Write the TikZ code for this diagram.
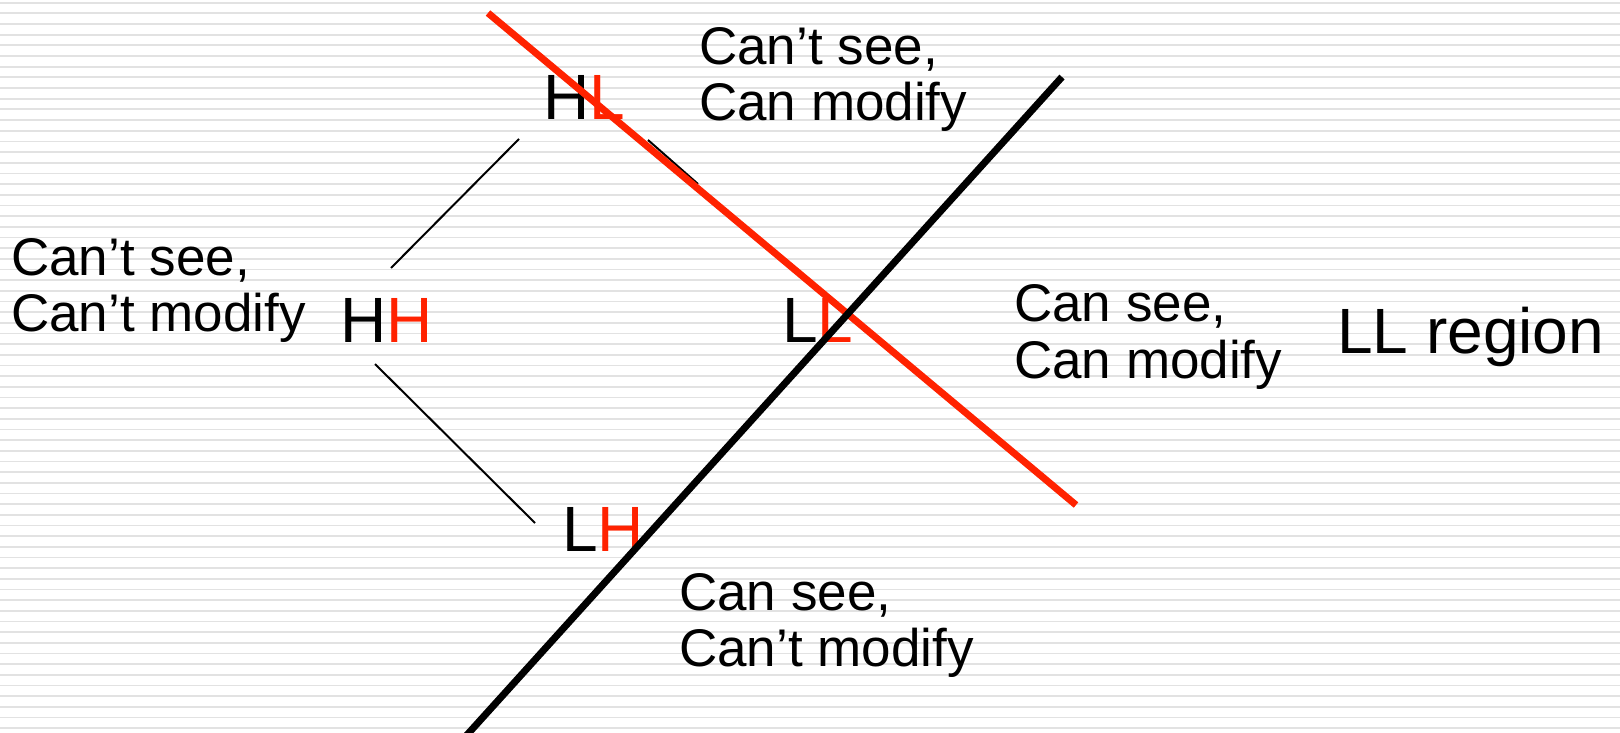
\documentclass[tikz,border=0pt]{standalone}
\usepackage{fontspec}
\setmainfont{Liberation Sans}
\definecolor{redline}{HTML}{FF2200}
\definecolor{stripe}{HTML}{E2E2E2}
\begin{document}
\begin{tikzpicture}[x=1pt,y=-1pt,
  big/.style={anchor=base west,inner sep=0pt,font=\fontsize{64}{64}\selectfont},
  note/.style={anchor=base west,inner sep=0pt,font=\fontsize{53}{56.7}\selectfont},
  thin/.style={line width=2pt,black},
  thick/.style={line width=7pt}]
\useasboundingbox[fill=white] (0,0) rectangle (1620,733);
\foreach \k in {0,...,68} {
  \draw[stripe,line width=1.8pt] (0,2.7+10.67*\k) -- (1620,2.7+10.67*\k);
}
% lattice edges
\coordinate (hh-ne) at (391,268);
\coordinate (hl-sw) at (519,139);
\coordinate (hh-se) at (375,364);
\coordinate (lh-nw) at (535,523);
\coordinate (hl-se) at (648,140);
\coordinate (ll-nw) at (698,184);
\draw[thin] (hh-ne) -- (hl-sw);
\draw[thin] (hh-se) -- (lh-nw);
\draw[thin] (hl-se) -- (ll-nw);
% lattice labels
\node[big] (HH) at (340,342.3) {H\textcolor{redline}{H}};
\node[big] (HL) at (543,119.3) {H\textcolor{redline}{L}};
\node[big] (LL) at (782,342.7) {L\textcolor{redline}{L}};
\node[big] (LH) at (562,551) {L\textcolor{redline}{H}};
\node[big] (region) at (1337,353.3) {LL region};
% notes
\node[note] (nHL) at (699,64.3) {\vtop{\baselineskip=56.7pt\hbox{Can’t see,}\hbox{Can modify}}};
\node[note] (nHH) at (11,275) {\vtop{\baselineskip=56.7pt\hbox{Can’t see,}\hbox{Can’t modify}}};
\node[note] (nLL) at (1014,321.7) {\vtop{\baselineskip=56.7pt\hbox{Can see,}\hbox{Can modify}}};
\node[note] (nLH) at (679,610) {\vtop{\baselineskip=56.7pt\hbox{Can see,}\hbox{Can’t modify}}};
% boundary lines
\coordinate (r1) at (488,13);
\coordinate (r2) at (1076,505);
\coordinate (b1) at (1062,77);
\coordinate (b2) at (466,736);
\draw[thick,redline] (r1) -- (r2);
\draw[thick,black] (b1) -- (b2);
\end{tikzpicture}
\end{document}
